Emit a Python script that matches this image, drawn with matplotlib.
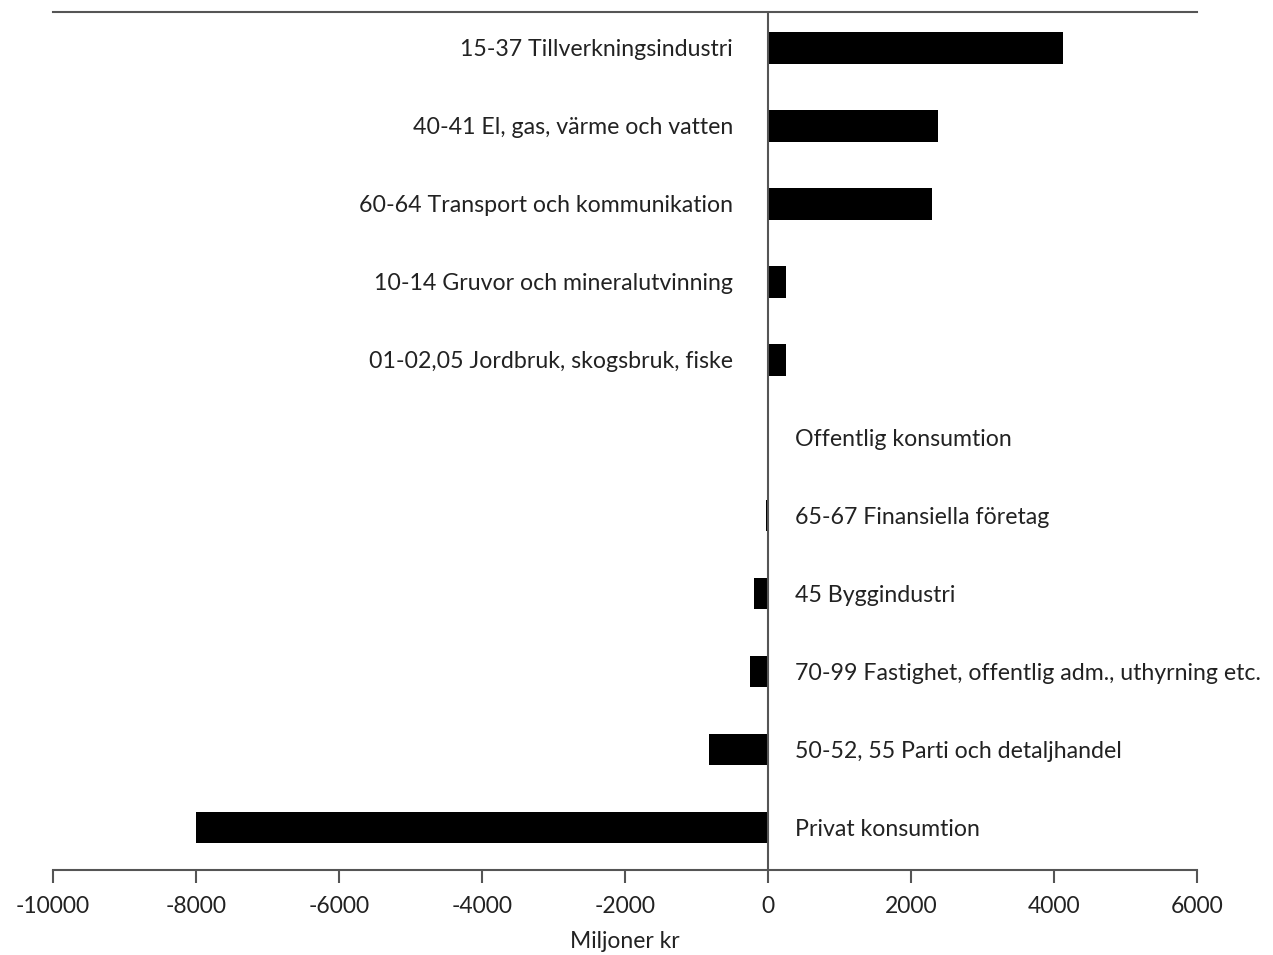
import matplotlib.pyplot as plt

# Data (Miljoner kr)
categories = [
    "15-37 Tillverkningsindustri",
    "40-41 El, gas, värme och vatten",
    "60-64 Transport och kommunikation",
    "10-14 Gruvor och mineralutvinning",
    "01-02,05 Jordbruk, skogsbruk, fiske",
    "Offentlig konsumtion",
    "65-67 Finansiella företag",
    "45 Byggindustri",
    "70-99 Fastighet, offentlig adm., uthyrning etc.",
    "50-52, 55 Parti och detaljhandel",
    "Privat konsumtion",
]
values = [4120, 2380, 2300, 250, 250, 0, -30, -190, -250, -820, -8000]
xticks = [-10000, -8000, -6000, -4000, -2000, 0, 2000, 4000, 6000]

plt.rcParams["font.family"] = ["Lato", "DejaVu Sans"]

fig = plt.figure(figsize=(12.73, 9.55), dpi=100)
ax = fig.add_axes([0.0416, 0.089, 0.8987, 0.8984])

pos = list(range(len(categories)))
ax.barh(pos, values, height=0.4, color="black")

# Labels near zero line
for p, v, name in zip(pos, values, categories):
    if v > 0:
        ax.annotate(name, (0, p), xytext=(-35, -2), textcoords="offset pixels",
                    ha="right", va="center", fontsize=16.7, color="#222222")
    else:
        ax.annotate(name, (0, p), xytext=(27, -2), textcoords="offset pixels",
                    ha="left", va="center", fontsize=16.7, color="#222222")

ax.axvline(0, color="#555555", linewidth=1.5)

ax.set_xlim(-10000, 6000)
ax.set_ylim(10.54, -0.46)
ax.set_xticks(xticks)
ax.set_xticklabels([str(t) for t in xticks], fontsize=16.5, color="#222222")
ax.set_yticks([])
ax.tick_params(axis="x", length=9, width=1.5, color="#555555", pad=10)

ax.spines["left"].set_visible(False)
ax.spines["right"].set_visible(False)
for s in ["top", "bottom"]:
    ax.spines[s].set_color("#555555")
    ax.spines[s].set_linewidth(1.5)

ax.set_xlabel("Miljoner kr", fontsize=16.5, color="#222222", labelpad=10)

fig.savefig("out.png", dpi=100)
